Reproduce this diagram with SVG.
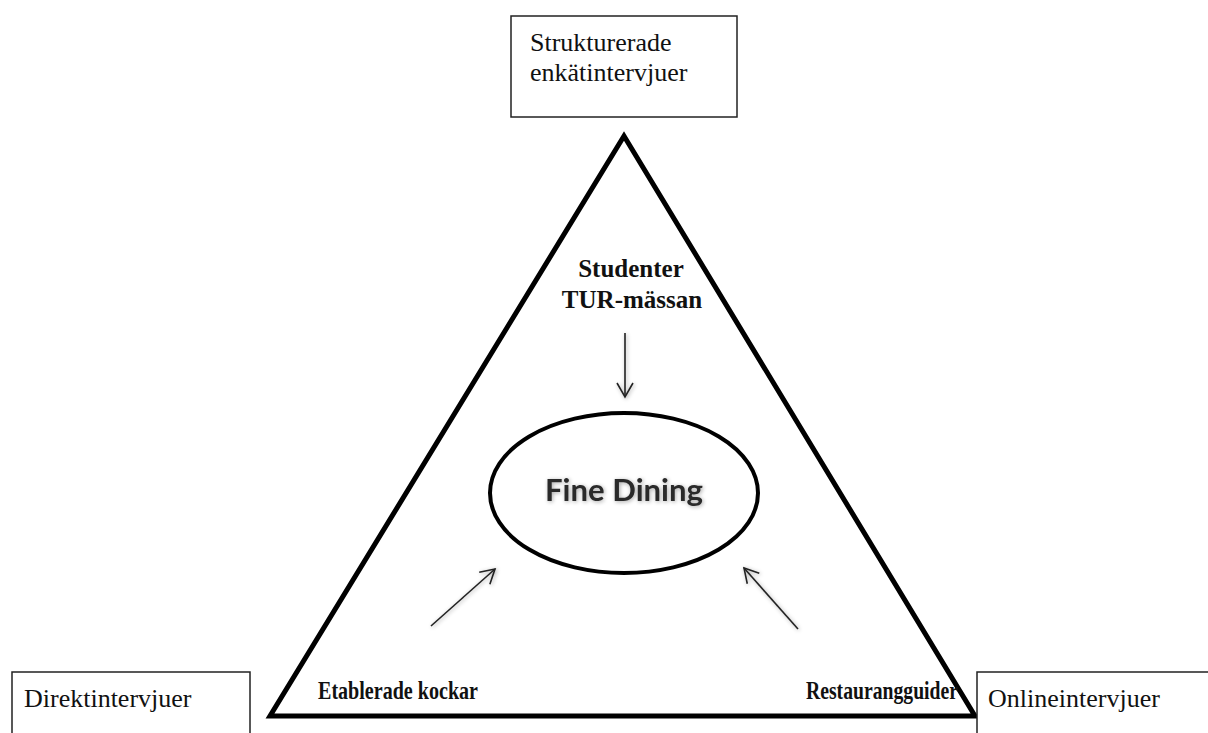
<svg xmlns="http://www.w3.org/2000/svg" width="1208" height="733" viewBox="0 0 1208 733">
<style>
.box{fill:#fff;stroke:#222;stroke-width:1.5}
.lbl{font-family:"Liberation Serif","Times New Roman",serif;font-size:26px;fill:#111}
.blbl{font-family:"Liberation Serif","Times New Roman",serif;font-size:25px;font-weight:bold;fill:#111}
.arr{stroke:#222;stroke-width:1.6;fill:none}
</style>
<defs>
<marker id="head" viewBox="0 0 20 20" refX="18" refY="10" markerWidth="20" markerHeight="20" markerUnits="userSpaceOnUse" orient="auto">
<path d="M4,2 L18,10 L4,18" fill="none" stroke="#222" stroke-width="1.6"/>
</marker>
<filter id="soft" x="-20%" y="-20%" width="140%" height="140%">
<feGaussianBlur in="SourceAlpha" stdDeviation="2" result="b"/>
<feOffset dx="1" dy="1" result="o"/>
<feComponentTransfer in="o" result="s"><feFuncA type="linear" slope="0.35"/></feComponentTransfer>
<feMerge><feMergeNode in="s"/><feMergeNode in="SourceGraphic"/></feMerge>
</filter>
</defs>
<rect width="1208" height="733" fill="#fff"/>
<g id="triangle">
<polygon points="624,136 270,716 975,716" fill="#fff" stroke="#000" stroke-width="5" stroke-linejoin="miter"/>
</g>
<g id="box-struktur">
<rect class="box" x="511" y="16" width="226" height="101"/>
<text class="lbl" x="530" y="51">Strukturerade</text>
<text class="lbl" x="530" y="81">enkätintervjuer</text>
</g>
<g id="box-direkt">
<rect class="box" x="12" y="672" width="238" height="80"/>
<text class="lbl" x="24" y="707">Direktintervjuer</text>
</g>
<g id="box-online">
<rect class="box" x="977" y="672" width="260" height="80"/>
<text class="lbl" x="988" y="707">Onlineintervjuer</text>
</g>
<g id="fine-dining">
<ellipse cx="624" cy="493" rx="134" ry="80" fill="#fff" stroke="#000" stroke-width="4"/>
<text x="624" y="501" text-anchor="middle" font-family="Lato,'Open Sans',sans-serif" font-weight="bold" font-size="30" fill="#2b2b2b" textLength="158" lengthAdjust="spacingAndGlyphs" filter="url(#soft)">Fine Dining</text>
</g>
<g id="studenter">
<text class="blbl" x="631" y="277" text-anchor="middle">Studenter</text>
<text class="blbl" x="632" y="308" text-anchor="middle">TUR-mässan</text>
</g>
<g id="kockar">
<text class="blbl" x="318" y="699" textLength="160" lengthAdjust="spacingAndGlyphs">Etablerade kockar</text>
</g>
<g id="guider">
<text class="blbl" x="806" y="699" textLength="152" lengthAdjust="spacingAndGlyphs">Restaurangguider</text>
</g>
<g id="connectors" filter="url(#soft)">
<line class="arr" x1="625" y1="333" x2="625" y2="397" marker-end="url(#head)"/>
<line class="arr" x1="431" y1="626" x2="495" y2="569" marker-end="url(#head)"/>
<line class="arr" x1="798" y1="629" x2="744" y2="568" marker-end="url(#head)"/>
</g>
</svg>
